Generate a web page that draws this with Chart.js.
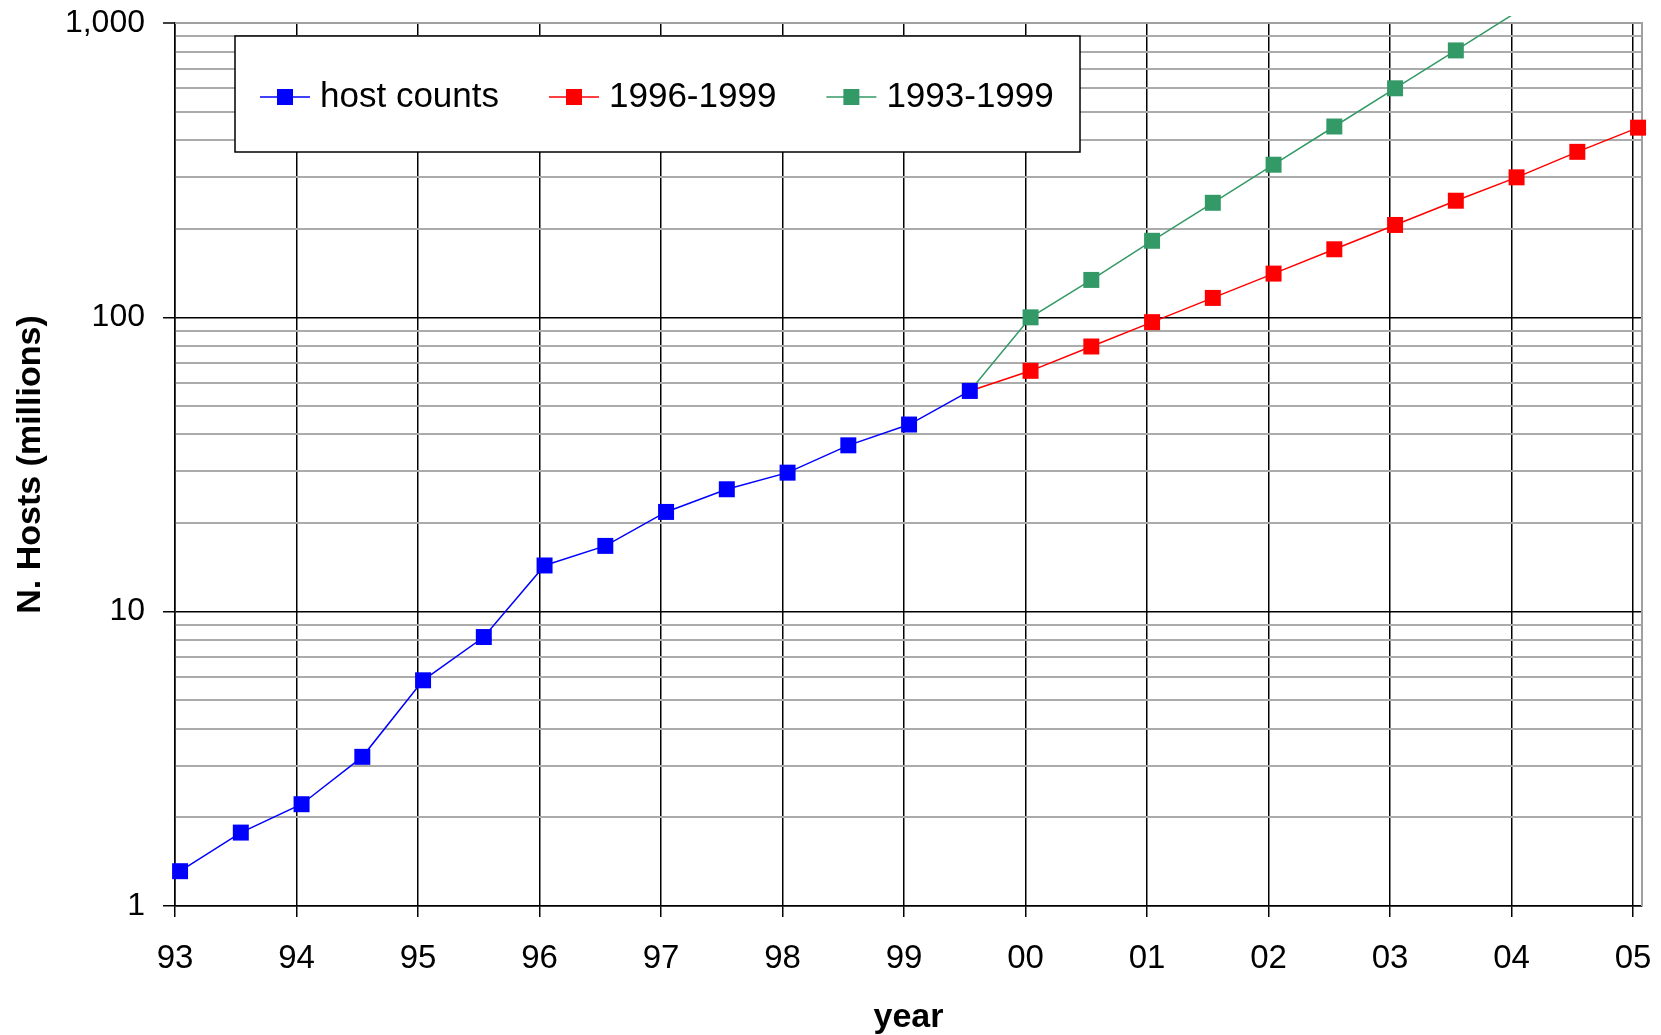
<!DOCTYPE html>
<html><head><meta charset="utf-8">
<script src="https://cdn.jsdelivr.net/npm/chart.js@4.4.1/dist/chart.umd.min.js"></script>
<style>html,body{margin:0;padding:0;background:#fff;}canvas{display:block;}</style>
</head><body>
<canvas id="c" width="1661" height="1035"></canvas>
<script>
// ---- data ----
const seriesLabels = ['host counts', '1996-1999', '1993-1999'];
const seriesColors = ['#0000ff', '#ff0000', '#339966'];

const hostDates = ['1993-01','1993-07','1994-01','1994-07','1995-01','1995-07','1996-01',
                   '1996-07','1997-01','1997-07','1998-01','1998-07','1999-01','1999-07'];
const hostCounts = [1.313, 1.776, 2.217, 3.212, 5.846, 8.200, 14.352,
                    16.729, 21.819, 26.053, 29.670, 36.739, 43.230, 56.218];

const fit9699Dates = ['1999-07','2000-01','2000-07','2001-01','2001-07','2002-01',
                      '2002-07','2003-01','2003-07','2004-01','2004-07','2005-01'];
const fit9699Values = [56.218, 65.8, 79.6, 96.3, 116.4, 140.8, 170.3, 206, 249, 299, 365, 441];

const fit9399Dates = ['1999-07','2000-01','2000-07','2001-01','2001-07','2002-01',
                      '2002-07','2003-01','2003-07','2004-01'];
const fit9399Values = [56.218, 100, 134, 182, 245, 330, 445, 600, 807, 1089];

const yearTicks = [1993,1994,1995,1996,1997,1998,1999,2000,2001,2002,2003,2004,2005];
const yDecades = [1, 10, 100, 1000];
const yTickLabels = {1: '1', 10: '10', 100: '100', 1000: '1,000'};
const xTitle = 'year';
const yTitle = 'N. Hosts (millions)';

// ---- helpers ----
const FONT = '"Liberation Sans", Arial, Helvetica, sans-serif';
function toYear(d) { const [y, m] = d.split('-').map(Number); return y + (m - 1) / 12 + 0.5 / 12; }
function pts(dates, vals) { return dates.map((d, i) => ({x: toYear(d), y: vals[i]})); }
function isMajor(v) { const l = Math.log10(v); return Math.abs(l - Math.round(l)) < 1e-9; }
const R = 11.3;
function radii(n, hideFirst, hideLast) {
  return Array.from({length: n}, (_, i) => ((hideFirst && i === 0) || (hideLast && i === n - 1)) ? 0 : R);
}

const datasets = [
  {label: seriesLabels[0], data: pts(hostDates, hostCounts), pointRadius: radii(hostDates.length, false, false)},
  {label: seriesLabels[1], data: pts(fit9699Dates, fit9699Values), pointRadius: radii(fit9699Dates.length, true, false)},
  {label: seriesLabels[2], data: pts(fit9399Dates, fit9399Values), pointRadius: radii(fit9399Dates.length, true, true)}
].map((d, i) => Object.assign(d, {
  borderColor: seriesColors[i], backgroundColor: seriesColors[i],
  pointBackgroundColor: seriesColors[i], pointBorderColor: seriesColors[i], pointBorderWidth: 0,
  pointStyle: 'rect', borderWidth: 1.5, tension: 0, fill: false,
  clip: {left: 20, right: 20, bottom: 20, top: 7}
}));

const borderPlugin = {
  id: 'plotBorder',
  beforeDatasetsDraw(chart) {
    const {ctx, chartArea: a} = chart;
    ctx.save();
    ctx.strokeStyle = '#a0a0a0'; ctx.lineWidth = 2;
    ctx.beginPath();
    ctx.moveTo(a.left, a.top); ctx.lineTo(a.right, a.top); ctx.lineTo(a.right, a.bottom);
    ctx.stroke();
    ctx.restore();
  }
};

const legendPlugin = {
  id: 'boxLegend',
  afterDraw(chart) {
    const ctx = chart.ctx;
    const box = {x: 235, y: 36, w: 845, h: 116};
    ctx.save();
    ctx.fillStyle = '#fff';
    ctx.fillRect(box.x, box.y, box.w, box.h);
    ctx.strokeStyle = '#000'; ctx.lineWidth = 1.5;
    ctx.strokeRect(box.x, box.y, box.w, box.h);
    ctx.font = '35px ' + FONT;
    ctx.textBaseline = 'middle';
    const cy = box.y + box.h / 2 + 3;
    let x = 260;
    chart.data.datasets.forEach(ds => {
      ctx.strokeStyle = ds.borderColor; ctx.lineWidth = 1.5;
      ctx.beginPath(); ctx.moveTo(x, cy); ctx.lineTo(x + 50, cy); ctx.stroke();
      ctx.fillStyle = ds.borderColor;
      ctx.fillRect(x + 25 - 8, cy - 8, 16, 16);
      ctx.fillStyle = '#000';
      ctx.fillText(ds.label, x + 60, cy);
      x += 60 + ctx.measureText(ds.label).width + 50;
    });
    ctx.restore();
  }
};

new Chart(document.getElementById('c'), {
  type: 'line',
  data: {datasets},
  plugins: [borderPlugin, legendPlugin],
  options: {
    responsive: false, animation: false, events: [],
    layout: {padding: {left: 0, top: 23, right: 19, bottom: 0}},
    plugins: {legend: {display: false}, tooltip: {enabled: false}},
    scales: {
      x: {
        type: 'linear', min: 1993, max: 2005.074,
        afterBuildTicks: s => { s.ticks = yearTicks.map(v => ({value: v})); },
        afterFit: s => { s.height = 129; s.paddingLeft = 0; s.paddingRight = 0; },
        ticks: {autoSkip: false, maxRotation: 0, padding: 22, color: '#000',
                font: {family: FONT, size: 33},
                callback: v => String(Math.round(v) % 100).padStart(2, '0')},
        grid: {color: '#000', lineWidth: 1.5, tickLength: 11, tickColor: '#000', tickWidth: 1.5},
        border: {display: true, color: '#000', width: 1.5},
        title: {display: true, text: xTitle, color: '#000',
                font: {family: FONT, size: 34, weight: 'bold'}, padding: {top: 0, bottom: -3}}
      },
      y: {
        type: 'logarithmic', min: 1, max: 1000,
        afterBuildTicks: s => {
          const t = [];
          yDecades.slice(0, -1).forEach(d => { for (let m = 1; m <= 9; m++) t.push({value: d * m}); });
          t.push({value: yDecades[yDecades.length - 1]});
          s.ticks = t;
        },
        afterFit: s => { s.width = 175; s.paddingTop = 0; s.paddingBottom = 0; },
        ticks: {autoSkip: false, padding: 18, color: '#000',
                font: {family: FONT, size: 32},
                callback: v => yTickLabels[v] || ''},
        grid: {
          color: c => { const v = c.tick && c.tick.value; if (v === 1000) return '#a0a0a0'; return isMajor(v) ? '#000' : '#ababab'; },
          lineWidth: c => { const v = c.tick && c.tick.value; return (isMajor(v) && v !== 1000) ? 1.5 : 2; },
          tickLength: 12,
          tickColor: c => isMajor(c.tick.value) ? '#000' : 'rgba(0,0,0,0)',
          tickWidth: 1.5
        },
        border: {display: true, color: '#000', width: 1.5},
        title: {display: true, text: yTitle, color: '#000',
                font: {family: FONT, size: 34, weight: 'bold'}, padding: {top: 10, bottom: 0}}
      }
    }
  }
});
</script>
</body></html>
